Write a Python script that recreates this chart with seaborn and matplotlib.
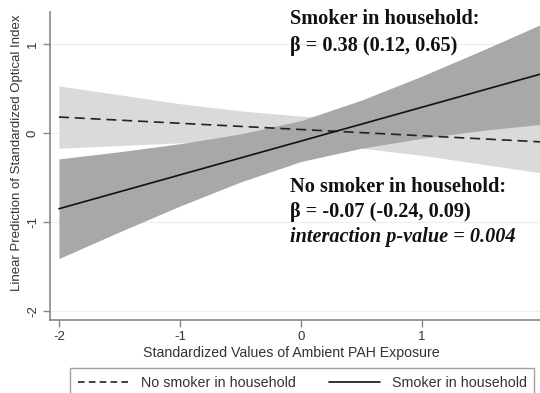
import matplotlib
matplotlib.use("Agg")
import matplotlib.pyplot as plt
import seaborn as sns
import pandas as pd

# Predicted standardized optical index across PAH exposure, by household smoking
pah_x = [-2.0, -1.5, -1.0, -0.5, 0.0, 0.5, 1.0, 1.5, 2.0]

no_smoker_fit = [0.18, 0.145, 0.11, 0.075, 0.04, 0.005, -0.03, -0.065, -0.10]
no_smoker_lo = [-0.17, -0.14, -0.11, -0.10, -0.11, -0.17, -0.25, -0.35, -0.45]
no_smoker_hi = [0.53, 0.43, 0.33, 0.25, 0.19, 0.18, 0.19, 0.22, 0.25]

smoker_fit = [-0.85, -0.66, -0.47, -0.28, -0.09, 0.10, 0.29, 0.48, 0.67]
smoker_lo = [-1.41, -1.11, -0.82, -0.55, -0.32, -0.17, -0.06, 0.03, 0.10]
smoker_hi = [-0.29, -0.21, -0.12, -0.01, 0.14, 0.37, 0.64, 0.93, 1.23]

group_labels = ["No smoker in household", "Smoker in household"]
x_ticks = [-2, -1, 0, 1, 2]
y_ticks = [-2, -1, 0, 1]

sns.set_style("white")
plt.rcParams["font.family"] = ["Liberation Sans", "DejaVu Sans"]

df = pd.DataFrame({
    "x": pah_x * 2,
    "fit": no_smoker_fit + smoker_fit,
    "group": [group_labels[0]] * len(pah_x) + [group_labels[1]] * len(pah_x),
})

W, H = 540, 393
fig = plt.figure(figsize=(W / 100, H / 100), dpi=100)
ax_left, ax_bottom, ax_w, ax_h = 50, 320, 505, 308
ax = fig.add_axes([ax_left / W, 1 - ax_bottom / H, ax_w / W, ax_h / H])

# confidence bands
ax.fill_between(pah_x, no_smoker_lo, no_smoker_hi, color="#dadada", linewidth=0, zorder=1)
ax.fill_between(pah_x, smoker_lo, smoker_hi, color="#a8a8a8", linewidth=0, zorder=2)

sns.lineplot(data=df, x="x", y="fit", hue="group", style="group",
             palette={group_labels[0]: "#222222", group_labels[1]: "#111111"},
             dashes={group_labels[0]: (6, 3.5), group_labels[1]: ""},
             linewidth=1.2, legend=False, ax=ax, zorder=3)

ax.set_xlim(-2.074, 2.10)
ax.set_ylim(-2.10, 1.36)
ax.set_xticks(x_ticks)
ax.set_yticks(y_ticks)
ax.set_xticklabels([str(v) for v in x_ticks], fontsize=9.5, color="#333333")
ax.set_yticklabels([str(v) for v in y_ticks], fontsize=9.5, color="#333333",
                   rotation=90, va="center")
ax.tick_params(axis="both", direction="out", length=5, width=1, color="#888888",
               pad=3, bottom=True, left=True)
ax.grid(axis="y", color="#eeeeee", linewidth=0.8)
ax.set_axisbelow(True)
for side in ["top", "right"]:
    ax.spines[side].set_visible(False)
for side in ["left", "bottom"]:
    ax.spines[side].set_color("#888888")
    ax.spines[side].set_linewidth(1.2)

ax.set_xlabel("Standardized Values of Ambient PAH Exposure", fontsize=10.2,
              color="#333333", va="center")
ax.xaxis.set_label_coords((291 - ax_left) / ax_w, -(353 - ax_bottom) / ax_h)
ax.set_ylabel("Linear Prediction of Standardized Optical Index", fontsize=9.5,
              color="#333333", va="center")
ax.yaxis.set_label_coords(-(ax_left - 17) / ax_w, (ax_bottom - 153) / ax_h)

serif = ["Liberation Serif", "DejaVu Serif"]
ann = dict(fontsize=14.6, fontweight="bold", family=serif, color="#111111",
           ha="left", va="center", zorder=5)
ax.text(-0.09, 1.28, "Smoker in household:", **ann)
ax.text(-0.09, 0.98, "β = 0.38 (0.12, 0.65)", **ann)
ax.text(-0.09, -0.61, "No smoker in household:", **ann)
ax.text(-0.09, -0.89, "β = -0.07 (-0.24, 0.09)", **ann)
ax.text(-0.09, -1.17, "interaction p-value = 0.004", style="italic", **ann)

handles = [
    plt.Line2D([], [], color="#222222", linewidth=1.2, dashes=(4, 2.5)),
    plt.Line2D([], [], color="#111111", linewidth=1.2),
]
leg = fig.legend(handles, group_labels, loc="upper left", ncol=2,
                 bbox_to_anchor=(70 / W, 1 - 368 / H), borderaxespad=0,
                 frameon=True, fontsize=10.3, handlelength=3.6,
                 handletextpad=0.8, columnspacing=2.3,
                 borderpad=0.55, fancybox=False)
leg.get_frame().set_edgecolor("#888888")
leg.get_frame().set_linewidth(1.0)
for t in leg.get_texts():
    t.set_color("#333333")

fig.savefig("out.png", dpi=100)
